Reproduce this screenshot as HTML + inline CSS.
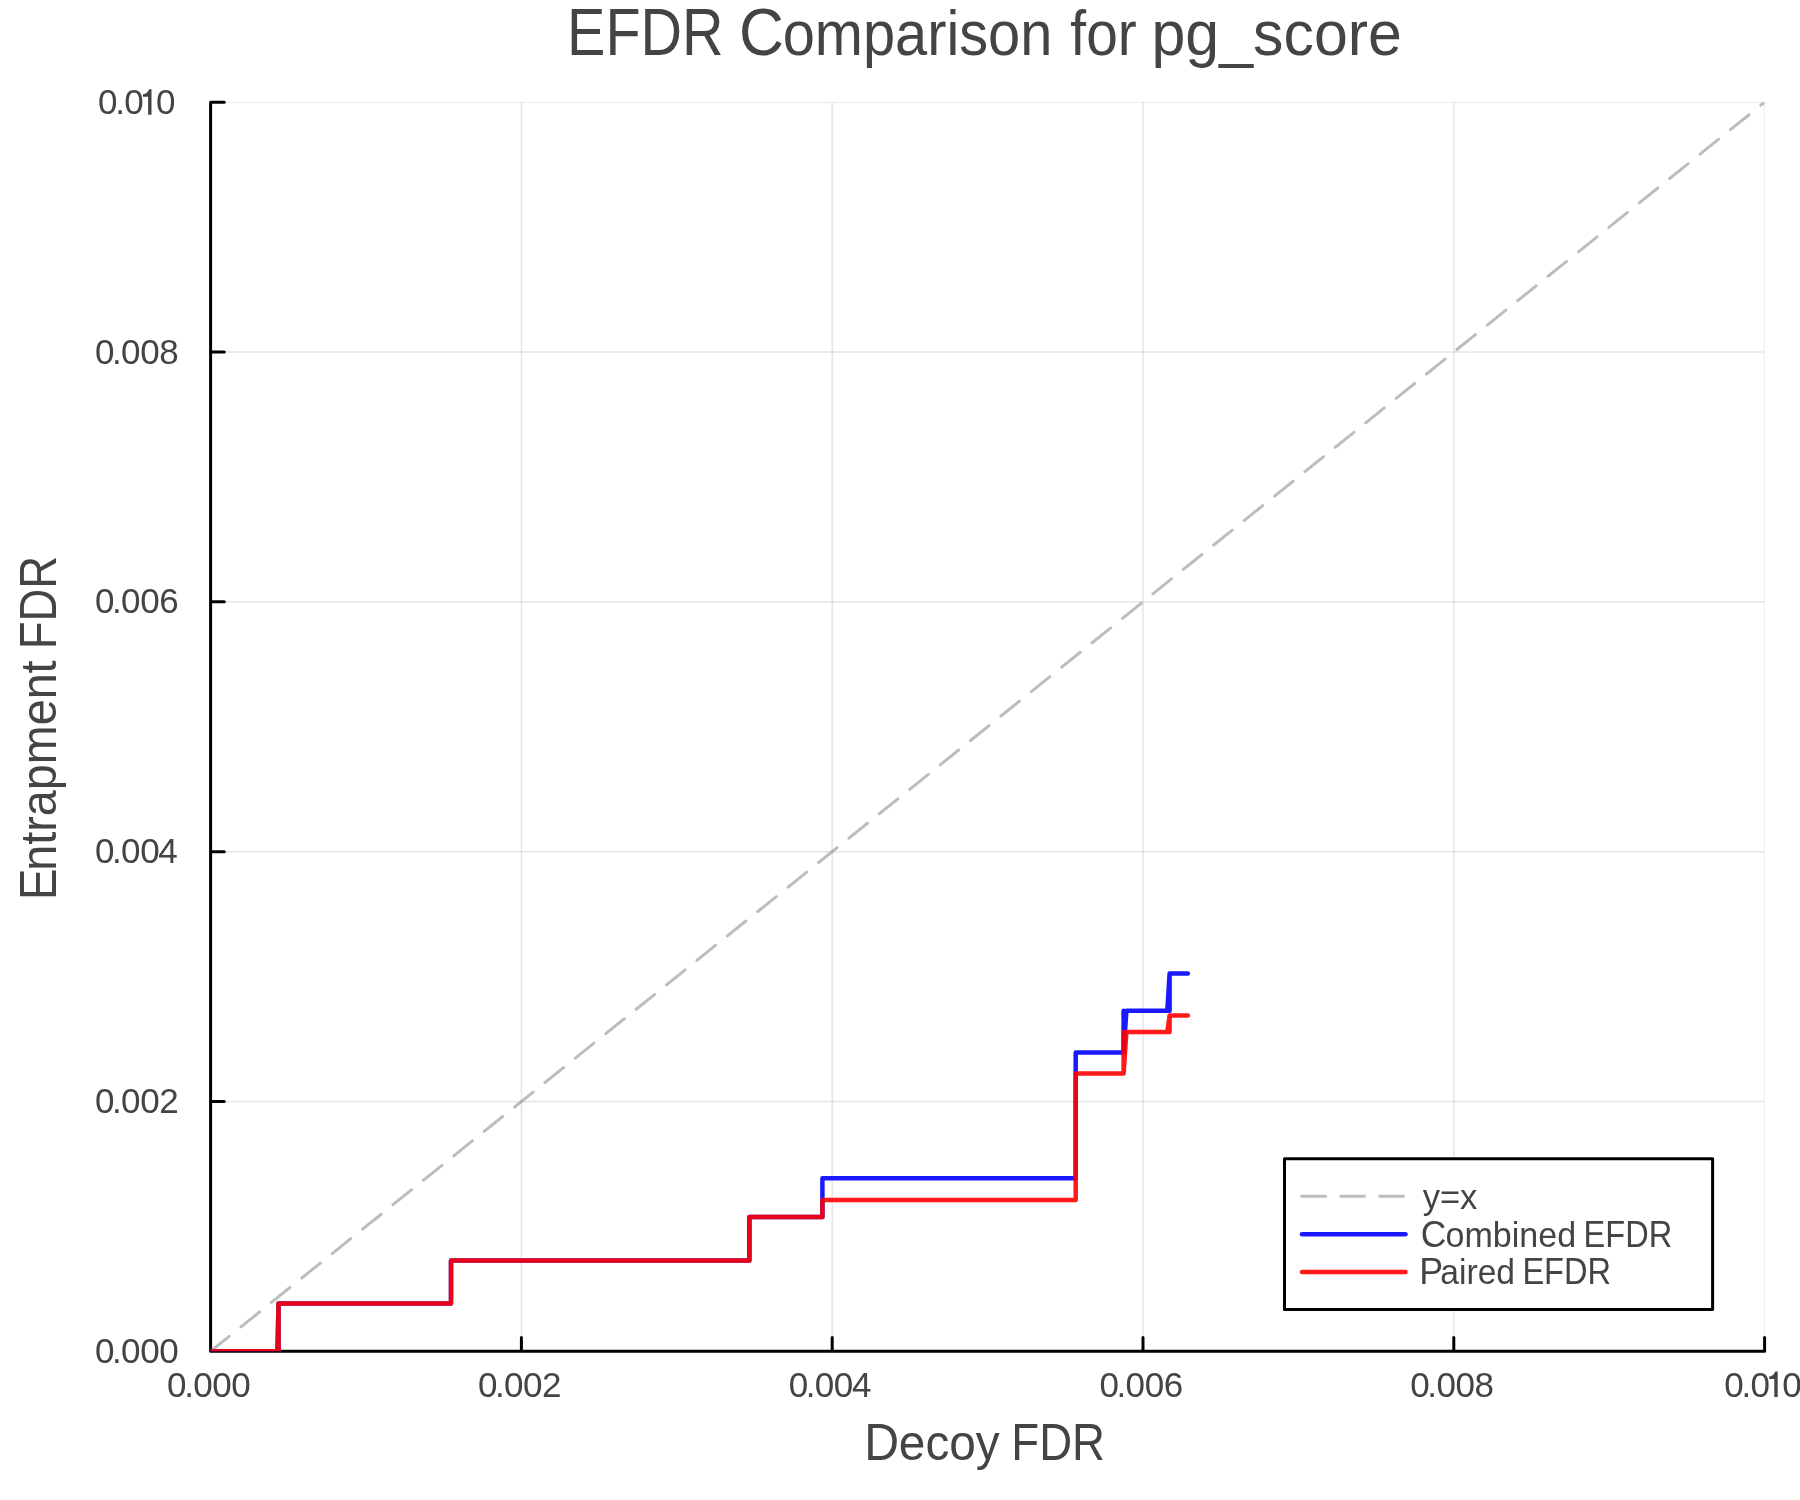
<!DOCTYPE html><html><head><meta charset="utf-8"><style>html,body{margin:0;padding:0;background:#fff;width:1800px;height:1500px;overflow:hidden}svg{display:block;will-change:transform}</style></head><body>
<svg width="1800" height="1500" viewBox="0 0 1800 1500" font-family='"Liberation Sans", sans-serif' fill="#444444">
<rect width="1800" height="1500" fill="#fff"/>
<defs><clipPath id="pa"><rect x="210.6" y="102.2" width="1554.0" height="1249.1"/></clipPath></defs>
<g clip-path="url(#pa)" fill="none" stroke="#000" stroke-opacity="0.1" stroke-width="1.5"><path d="M210.60 102.2V1351.3M521.40 102.2V1351.3M832.20 102.2V1351.3M1143.00 102.2V1351.3M1453.80 102.2V1351.3M1764.60 102.2V1351.3"/><path d="M210.6 1351.30H1764.6M210.6 1101.48H1764.6M210.6 851.66H1764.6M210.6 601.84H1764.6M210.6 352.02H1764.6M210.6 102.20H1764.6"/></g>
<path d="M210.6 102.2V1351.3H1764.6M210.60 1351.3v-13.7M521.40 1351.3v-13.7M832.20 1351.3v-13.7M1143.00 1351.3v-13.7M1453.80 1351.3v-13.7M1764.60 1351.3v-13.7M210.6 1351.30h13.7M210.6 1101.48h13.7M210.6 851.66h13.7M210.6 601.84h13.7M210.6 352.02h13.7M210.6 102.20h13.7" fill="none" stroke="#000" stroke-width="3" stroke-linecap="round" stroke-linejoin="round"/>
<text x="167.12 184.13 193.22 212.27 231.27" y="1396.60" font-size="35.0">0.000</text>
<text x="477.92 494.93 504.02 523.07 542.07" y="1396.60" font-size="35.0">0.002</text>
<text x="788.72 805.74 814.82 833.87 851.98" y="1396.60" font-size="35.0">0.004</text>
<text x="1099.52 1116.54 1125.62 1144.67 1163.85" y="1396.60" font-size="35.0">0.006</text>
<text x="1410.32 1427.34 1436.42 1455.47 1474.62" y="1396.60" font-size="35.0">0.008</text>
<text x="1724.22 1741.38 1750.42 1782.32" y="1396.60" font-size="35.0">0.00</text><path transform="translate(1626.20 1282.20)" d="M151.5 114.7V89.3H149.0C148.4 91.9 146.3 94.0 143.0 94.2V96.7H148.1V114.7Z"/>
<text x="95.02 112.04 121.12 140.17 159.17" y="1363.30" font-size="35.0">0.000</text>
<text x="95.02 112.04 121.12 140.17 159.17" y="1113.30" font-size="35.0">0.002</text>
<text x="95.02 112.04 121.12 140.17 158.28" y="863.30" font-size="35.0">0.004</text>
<text x="95.02 112.04 121.12 140.17 159.35" y="613.30" font-size="35.0">0.006</text>
<text x="95.02 112.04 121.12 140.17 159.32" y="364.40" font-size="35.0">0.008</text>
<text x="98.02 115.19 124.22 156.12" y="114.40" font-size="35.0">0.00</text><path transform="translate(0.00 0.00)" d="M151.5 114.7V89.3H149.0C148.4 91.9 146.3 94.0 143.0 94.2V96.7H148.1V114.7Z"/>
<text x="567.06" y="54.70" font-size="66.1" textLength="156.56" lengthAdjust="spacingAndGlyphs">EFDR</text>
<text x="738.99" y="54.70" font-size="66.1" textLength="44.92" lengthAdjust="spacingAndGlyphs">C</text>
<text x="782.64" y="54.70" font-size="62.7" textLength="269.76" lengthAdjust="spacingAndGlyphs">omparison</text>
<text x="1070.35" y="54.70" font-size="62.7" textLength="66.38" lengthAdjust="spacingAndGlyphs">for</text>
<text x="1151.44" y="54.70" font-size="62.7" textLength="250.43" lengthAdjust="spacingAndGlyphs">pg_score</text>
<text x="864.27" y="1459.80" font-size="51.8" textLength="34.86" lengthAdjust="spacingAndGlyphs">D</text>
<text x="898.87" y="1459.80" font-size="49.5" textLength="100.84" lengthAdjust="spacingAndGlyphs">ecoy</text>
<text x="1011.34" y="1459.80" font-size="51.8" textLength="93.63" lengthAdjust="spacingAndGlyphs">FDR</text>
<g transform="translate(55.67 0) rotate(-90)"><text x="-900.14" y="0.00" font-size="51.8" textLength="31.84" lengthAdjust="spacingAndGlyphs">E</text><text x="-870.65" y="0.00" font-size="49.5" textLength="210.21" lengthAdjust="spacingAndGlyphs">ntrapment</text><text x="-649.35" y="0.00" font-size="51.8" textLength="93.31" lengthAdjust="spacingAndGlyphs">FDR</text></g>
<g clip-path="url(#pa)" fill="none" stroke-linecap="round" stroke-linejoin="round">
<path d="M210.6 1351.3L1764.6 102.2" stroke="#808080" stroke-opacity="0.52" stroke-width="3" stroke-dasharray="23.8 15.2"/>
<path d="M210.6 1351.3 L277.5 1351.3 L278.5 1303.4 M277.5 1351.3 L278.5 1351.3 L278.5 1303.4 L451.0 1303.4 L451.0 1260.5 L749.4 1260.5 L749.4 1217.1 L822.4 1217.1 L822.4 1178.3 L1075.7 1178.3 L1075.7 1052.4 L1123.6 1052.4 L1123.6 1010.8 M1123.6 1052.4 L1126.4 1010.8 L1167.3 1010.8 L1169.6 973.5 M1167.3 1010.8 L1169.6 1010.8 L1169.6 973.5 L1187.9 973.5" stroke="#0000ff" stroke-opacity="0.9" stroke-width="4.5"/>
<path d="M210.6 1351.3 L277.5 1351.3 L278.5 1303.4 M277.5 1351.3 L278.5 1351.3 L278.5 1303.4 L451.0 1303.4 L451.0 1260.5 L749.4 1260.5 L749.4 1217.1 L822.4 1217.1 L822.4 1200.0 L1075.7 1200.0 L1075.7 1073.5 L1123.6 1073.5 L1123.6 1032.1 M1123.6 1073.5 L1126.4 1032.1 L1167.3 1032.1 L1169.6 1015.5 M1167.3 1032.1 L1169.6 1032.1 L1169.6 1015.5 L1187.9 1015.5" stroke="#ff0000" stroke-opacity="0.9" stroke-width="4.5"/>
</g>
<rect x="1284.5" y="1158.7" width="428.1" height="150.7" fill="#fff" stroke="#000" stroke-width="3" stroke-linejoin="round"/>
<g fill="none" stroke-linecap="round">
<path d="M1301.7 1196.3H1405" stroke="#808080" stroke-opacity="0.52" stroke-width="3" stroke-dasharray="23.8 15.2"/>
<path d="M1302.0 1234.3H1405.5" stroke="#0000ff" stroke-opacity="0.9" stroke-width="4.5"/>
<path d="M1302.0 1271.9H1405.5" stroke="#ff0000" stroke-opacity="0.9" stroke-width="4.5"/>
</g>
<text x="1422.66" y="1208.90" font-size="35.9" textLength="54.73" lengthAdjust="spacingAndGlyphs">y=x</text>
<text x="1420.73" y="1246.90" font-size="37.5" textLength="25.59" lengthAdjust="spacingAndGlyphs">C</text>
<text x="1445.55" y="1246.90" font-size="35.9" textLength="130.61" lengthAdjust="spacingAndGlyphs">ombined</text>
<text x="1583.62" y="1246.90" font-size="37.5" textLength="88.57" lengthAdjust="spacingAndGlyphs">EFDR</text>
<text x="1419.14" y="1283.80" font-size="37.5" textLength="23.92" lengthAdjust="spacingAndGlyphs">P</text>
<text x="1440.27" y="1283.80" font-size="35.9" textLength="74.77" lengthAdjust="spacingAndGlyphs">aired</text>
<text x="1522.41" y="1283.80" font-size="37.5" textLength="88.62" lengthAdjust="spacingAndGlyphs">EFDR</text>
</svg></body></html>
